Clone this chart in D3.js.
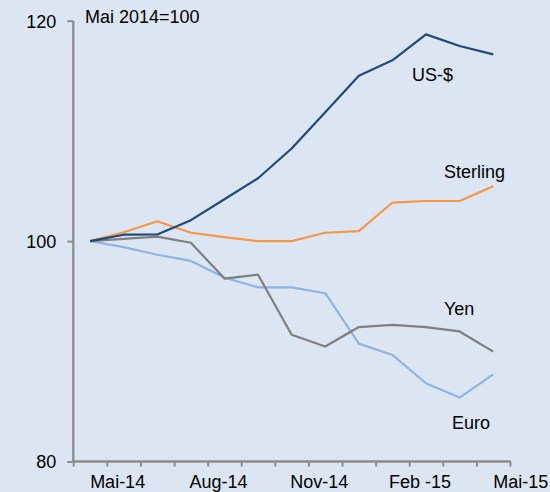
<!DOCTYPE html>
<html><head><meta charset="utf-8">
<script src="https://cdn.jsdelivr.net/npm/d3@7"></script>
<style>
html,body{margin:0;padding:0;background:#dce6f2;}
svg{display:block;font-family:"Liberation Sans",Arial,sans-serif;}
</style></head>
<body>
<svg id="c" width="550" height="492"></svg>
<script>
const months = ["Mai-14","Jun-14","Jul-14","Aug-14","Sep-14","Okt-14","Nov-14","Dez-14","Jan-15","Feb-15","Mar-15","Apr-15","Mai-15"];
const usd      = [100,100.58,100.6,101.9,103.8,105.7,108.4,111.7,115.0,116.4,118.76,117.7,116.95];
const sterling = [100,100.8,101.8,100.76,100.36,100.0,100.0,100.76,100.9,103.5,103.64,103.64,104.97];
const yen      = [100,100.2,100.4,99.85,96.6,96.95,91.5,90.43,92.2,92.4,92.2,91.8,89.97];
const euro     = [100,99.45,98.76,98.2,96.7,95.8,95.8,95.27,90.7,89.67,87.1,85.8,87.9];
const xTickLabels = ["Mai-14","Aug-14","Nov-14","Feb -15","Mai-15"];
const yTicks = [80,100,120];

const svg = d3.select("#c");
svg.append("rect").attr("width",550).attr("height",492).attr("fill","#dce6f2");

const x = d3.scaleLinear().domain([-0.5, 12.5]).range([73.3, 510]);
const y = d3.scaleLinear().domain([80, 120]).range([461.5, 20.7]);

const axisColor = "#8c8c8c";

// y axis
const ya = svg.append("g").attr("transform","translate(73.3,0)")
  .call(d3.axisLeft(y).tickValues(yTicks).tickSize(6).tickPadding(11).tickFormat(d3.format("d")));
ya.select(".domain").remove();
ya.selectAll(".tick line").attr("stroke",axisColor).attr("stroke-width",2);
ya.selectAll(".tick text").attr("fill","#000").style("font-size","18px").attr("dy","0.35em")
  .attr("font-family","Liberation Sans, Arial, sans-serif");
svg.append("line").attr("x1",73.3).attr("x2",73.3).attr("y1",y(120)).attr("y2",y(80)+1)
  .attr("stroke",axisColor).attr("stroke-width",2.3);

// x axis
const tickPos = d3.range(14).map(i => i - 0.5);
const xa = svg.append("g").attr("transform",`translate(0,${y(80)})`)
  .call(d3.axisBottom(x).tickValues(tickPos).tickSize(5).tickFormat(""));
xa.select(".domain").remove();
xa.selectAll(".tick line").attr("stroke",axisColor).attr("stroke-width",2);
svg.append("line").attr("x1",x(-0.5)-1).attr("x2",x(12.5)+1).attr("y1",y(80)).attr("y2",y(80))
  .attr("stroke",axisColor).attr("stroke-width",2.3);

svg.append("g").selectAll("text").data(xTickLabels).join("text")
  .attr("x",(d,i)=>x(i*3+0.82)).attr("y",488)
  .attr("text-anchor","middle").style("font-size","18px").attr("fill","#000")
  .text(d=>d);

// title
svg.append("text").attr("x",85).attr("y",22.5).style("font-size","18px").attr("fill","#000").text("Mai 2014=100");

const line = d3.line().x((d,i)=>x(i)).y(d=>y(d));
const series = [
  {name:"Euro", values:euro, color:"#8db4e2", lx:452, ly:429},
  {name:"Yen", values:yen, color:"#7f7f7f", lx:444, ly:315},
  {name:"Sterling", values:sterling, color:"#f79646", lx:444, ly:178},
  {name:"US-$", values:usd, color:"#1f497d", lx:412, ly:81}
];
series.forEach(s=>{
  svg.append("path").datum(s.values).attr("d",line).attr("fill","none")
    .attr("stroke",s.color).attr("stroke-width",2.2).attr("stroke-linejoin","round");
});
series.forEach(s=>{
  svg.append("text").attr("x",s.lx).attr("y",s.ly).style("font-size","18px").attr("fill","#000").text(s.name);
});
</script>
</body></html>
